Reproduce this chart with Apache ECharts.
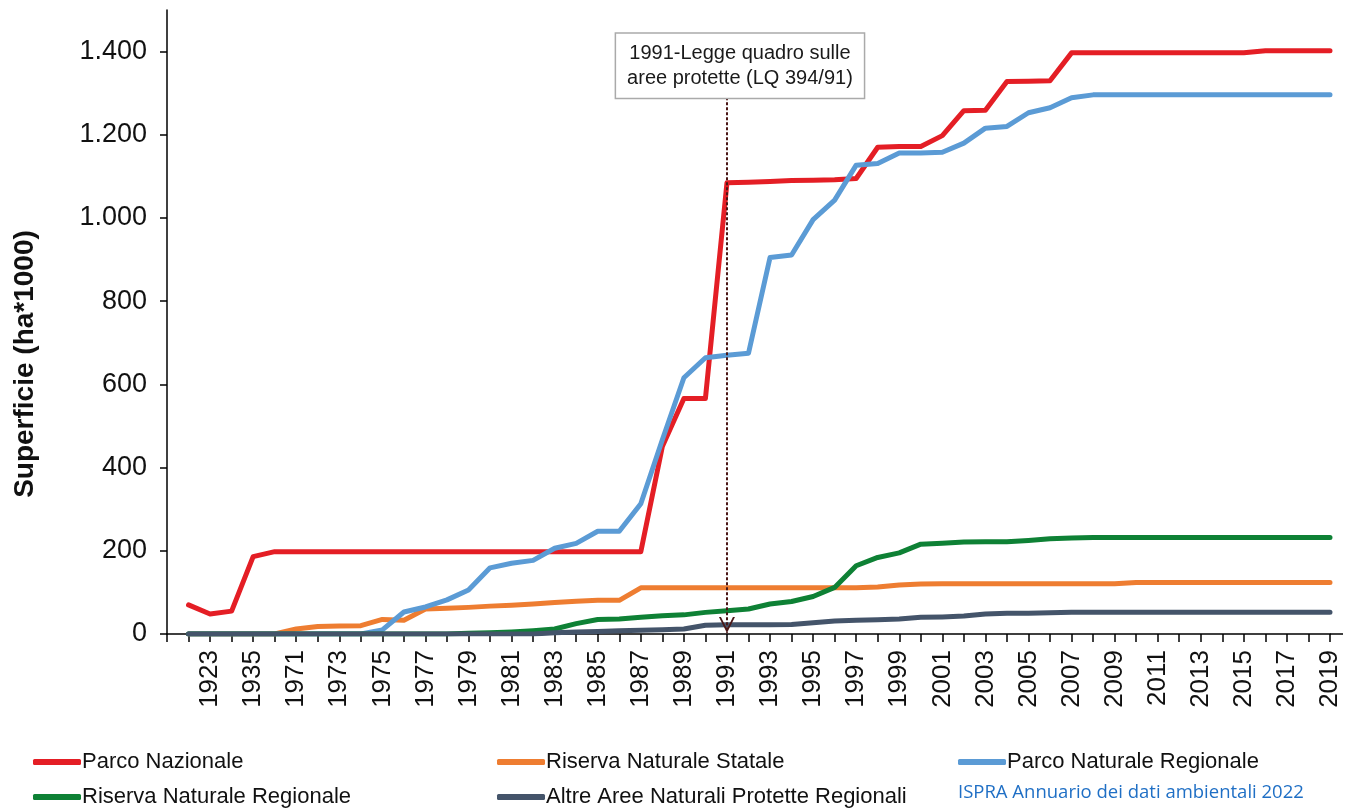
<!DOCTYPE html>
<html>
<head>
<meta charset="utf-8">
<script src="https://cdn.jsdelivr.net/npm/echarts@6/dist/echarts.min.js"></script>
<style>
html,body{margin:0;padding:0;background:#fff;}
#chart{width:1345px;height:808px;}
</style>
</head>
<body>
<div id="chart"></div>
<script>
// ---- data ----
const years = ['1922','1923','1934','1935',
  '1970','1971','1972','1973','1974','1975','1976','1977','1978','1979',
  '1980','1981','1982','1983','1984','1985','1986','1987','1988','1989',
  '1990','1991','1992','1993','1994','1995','1996','1997','1998','1999',
  '2000','2001','2002','2003','2004','2005','2006','2007','2008','2009',
  '2010','2011','2012','2013','2014','2015','2016','2017','2018','2019'];

const parcoNazionale = [70,48,55,186,
  198,198,198,198,198,198,198,198,198,198,
  198,198,198,198,198,198,198,198,451,566,
  566,1085,1086,1088,1090,1091,1092,1095,1170,1172,
  1172,1198,1258,1259,1328,1329,1330,1397,1397,1397,
  1397,1397,1397,1397,1397,1397,1402,1402,1402,1402];

const riservaStatale = [0,0,0,0,
  0,12,18,19,20,35,33,60,62,64,
  67,69,72,76,79,81,81,111,111,111,
  111,111,111,111,111,111,111,111,113,118,
  120,121,121,121,121,121,121,121,121,121,
  124,124,124,124,124,124,124,124,124,124];

const parcoRegionale = [0,0,0,0,
  0,0,0,0,0,10,53,65,82,106,
  159,170,177,206,218,247,247,313,467,616,
  664,670,675,905,911,996,1043,1127,1131,1156,
  1156,1158,1180,1216,1220,1253,1265,1289,1296,1296,
  1296,1296,1296,1296,1296,1296,1296,1296,1296,1296];

const riservaRegionale = [0,0,0,0,
  0,0,0,0,0,0,0,0,0,2,
  3,5,8,12,25,35,36,40,44,46,
  52,56,60,72,78,90,112,164,184,195,
  216,218,221,222,222,225,229,231,232,232,
  232,232,232,232,232,232,232,232,232,232];

const altreAree = [0,0,0,0,
  0,0,0,0,0,0,0,0,0,0,
  0,0,0,3,5,6,8,9,10,12,
  21,22,22,22,23,27,31,33,34,36,
  40,41,43,48,50,50,51,52,52,52,
  52,52,52,52,52,52,52,52,52,52];

const yTicks = [0,200,400,600,800,1000,1200,1400];
const seriesNames = ['Parco Nazionale','Riserva Naturale Statale','Parco Naturale Regionale','Riserva Naturale Regionale','Altre Aree Naturali Protette Regionali'];
const annotationText = '1991-Legge quadro sulle\naree protette (LQ 394/91)';
const annotationYear = '1991';
const yTitle = 'Superficie (ha*1000)';
const sourceText = 'ISPRA Annuario dei dati ambientali 2022';

// ---- build ----
const FONT = '"Liberation Sans", Arial, sans-serif';
const colors = ['#E41E25','#EE7D31','#5B9BD5','#0E8135','#44546A'];
const ARROW = '#4a1616';
const xCats = [''].concat(years);
const pad = arr => [null].concat(arr);
const fmt = v => String(v).replace(/\B(?=(\d{3})+(?!\d))/g, '.');

const allData = [parcoNazionale, riservaStatale, parcoRegionale, riservaRegionale, altreAree];
const series = allData.map((d, i) => ({
  name: seriesNames[i],
  type: 'line',
  data: pad(d),
  symbol: 'none',
  lineStyle: {width: 5, color: colors[i], cap: 'round', join: 'round'},
  itemStyle: {color: colors[i]},
  z: 2 + i,
  animation: false
}));

series[4].markLine = {
  silent: true,
  z: 20,
  symbol: ['none', 'none'],
  label: {show: false},
  lineStyle: {type: [3, 2], color: ARROW, width: 2, opacity: 1},
  data: [[{coord: [annotationYear, 1290]}, {coord: [annotationYear, 2]}]],
  animation: false
};
series[4].markPoint = {
  silent: true,
  z: 20,
  animation: false,
  data: [
    {
      coord: [annotationYear, 1366],
      symbol: 'rect',
      symbolSize: 0,
      label: {
        show: true,
        position: 'inside',
        offset: [13, 0],
        formatter: annotationText,
        fontFamily: FONT,
        fontSize: 20,
        lineHeight: 25,
        color: '#1a1a1a',
        backgroundColor: '#fff',
        borderColor: '#aaaaaa',
        borderWidth: 1.5,
        padding: [7, 11, 7, 11],
        align: 'center'
      }
    },
    {
      coord: [annotationYear, 0],
      symbol: 'path://M0,0 L8,16 L16,0 L14,0 L8,12 L2,0 Z',
      symbolSize: [16, 16],
      symbolKeepAspect: true,
      symbolOffset: [0, -9],
      itemStyle: {color: ARROW},
      label: {show: false}
    }
  ]
};

const legendPos = [
  {left: 28, top: 746},
  {left: 492, top: 746},
  {left: 953, top: 746},
  {left: 28, top: 781},
  {left: 492, top: 781}
];
const legends = seriesNames.map((n, i) => ({
  data: [n],
  left: legendPos[i].left,
  top: legendPos[i].top,
  icon: 'roundRect',
  itemWidth: 48,
  itemHeight: 6,
  selectedMode: false,
  textStyle: {fontFamily: FONT, fontSize: 22, color: '#111', padding: [0, 0, 0, -4]}
}));

const chart = echarts.init(document.getElementById('chart'), null, {renderer: 'canvas'});
chart.setOption({
  animation: false,
  backgroundColor: '#fff',
  grid: {left: 167, right: 15, top: 10, bottom: 174, containLabel: false},
  xAxis: {
    type: 'category',
    data: xCats,
    boundaryGap: false,
    axisLine: {lineStyle: {color: '#000', width: 1.5}},
    axisTick: {show: true, interval: 0, length: 8, lineStyle: {color: '#000', width: 1.5}},
    axisLabel: {
      interval: (idx) => idx > 0 && idx % 2 === 0,
      rotate: 90,
      margin: 16,
      fontFamily: FONT,
      fontSize: 26,
      color: '#111'
    },
    splitLine: {show: false}
  },
  yAxis: {
    type: 'value',
    min: 0,
    max: 1500,
    interval: 100,
    axisLine: {show: true, lineStyle: {color: '#000', width: 1.5}},
    axisTick: {show: true, length: 7, customValues: yTicks, lineStyle: {color: '#000', width: 1.5}},
    axisLabel: {customValues: yTicks, formatter: v => fmt(v), margin: 20, fontFamily: FONT, fontSize: 27, color: '#111'},
    splitLine: {show: false}
  },
  legend: legends,
  graphic: [
    {type: 'text', x: 25, y: 364, rotation: Math.PI / 2,
     style: {text: yTitle, font: 'bold 28px ' + FONT, fill: '#111', align: 'center', verticalAlign: 'middle'}},
    {type: 'text', left: 958, top: 783,
     style: {text: sourceText, font: '18.5px "Open Sans", "Noto Sans", sans-serif', fill: '#1F6FC5'}},
    {type: 'line', shape: {x1: 1330, y1: 634, x2: 1343, y2: 634}, style: {stroke: '#000', lineWidth: 1.5}}
  ],
  series: series
});
</script>
</body>
</html>
